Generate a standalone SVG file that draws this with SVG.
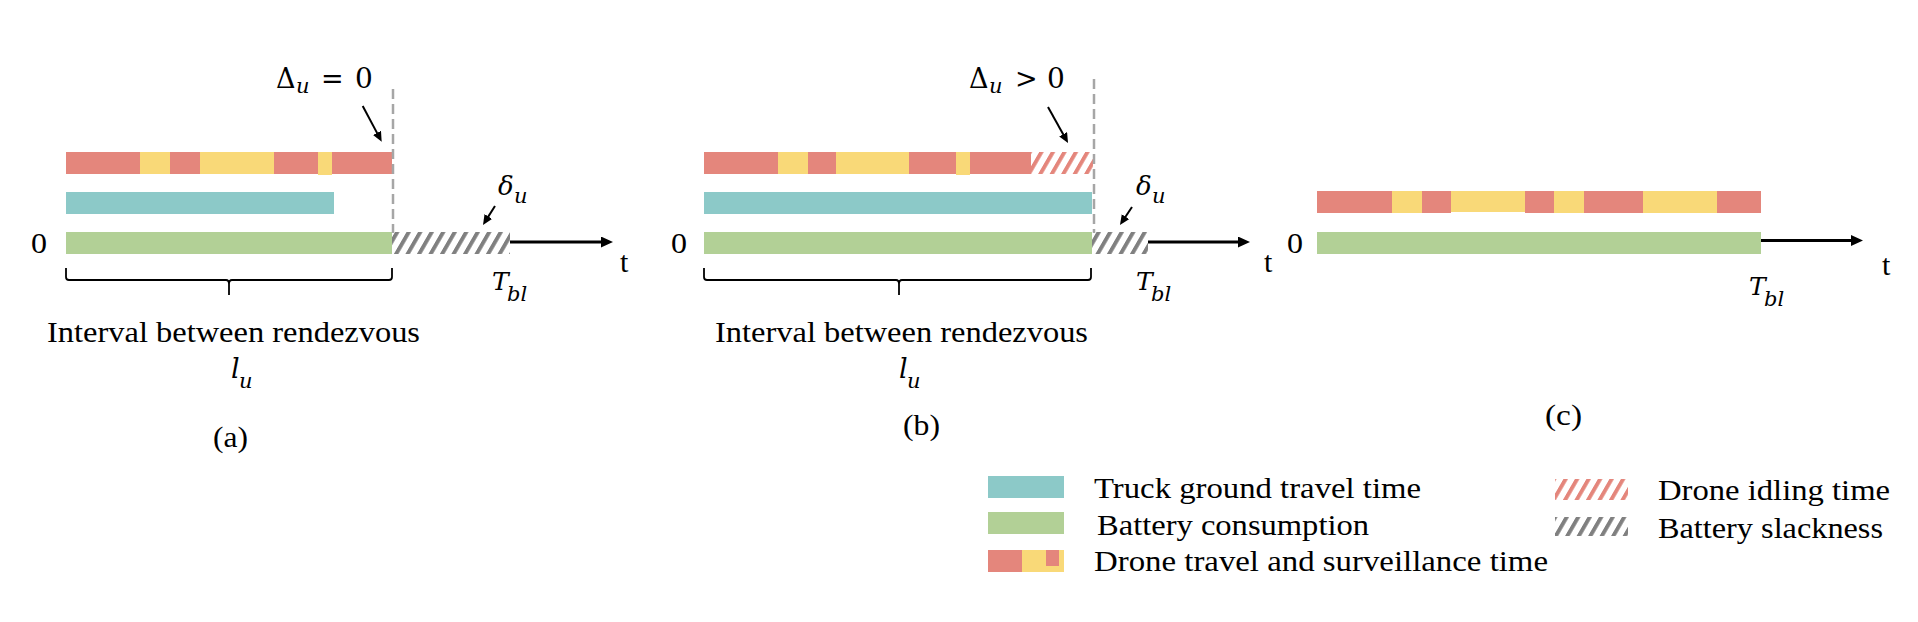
<svg xmlns="http://www.w3.org/2000/svg" width="1918" height="622" viewBox="0 0 1918 622">
<style>
.txt{font-family:"Liberation Serif",serif;font-size:30px;fill:#000}
.m{font-family:"DejaVu Serif",serif;fill:#000}
.mi{font-family:"DejaVu Serif",serif;font-style:italic;fill:#000}
.red{fill:#E4867C}
.yel{fill:#F9D978}
.teal{fill:#8CC9C8}
.green{fill:#B2D096}
.dash{stroke:#A6A6A6;stroke-width:2.5;stroke-dasharray:10 5;fill:none}
.brace{stroke:#000;stroke-width:1.8;fill:none}
.axis{stroke:#000;stroke-width:3;fill:none}
.ann{stroke:#000;stroke-width:2;fill:none}
</style>
<defs>
<pattern id="hatchGrey" patternUnits="userSpaceOnUse" width="11.5" height="40" patternTransform="skewX(-30)">
<rect x="0" y="0" width="4.5" height="40" fill="#808080"/>
</pattern>
<pattern id="hatchRed" patternUnits="userSpaceOnUse" width="11.5" height="40" patternTransform="skewX(-30)">
<rect x="0" y="0" width="4.5" height="40" fill="#E4867C"/>
</pattern>
<marker id="arrBig" markerUnits="userSpaceOnUse" markerWidth="13" markerHeight="12" refX="4" refY="5.5" orient="auto">
<path d="M0,0 L12,5.5 L0,11 Z" fill="#000"/>
</marker>
<marker id="arrSmall" markerUnits="userSpaceOnUse" markerWidth="11" markerHeight="10" refX="4" refY="4.5" orient="auto">
<path d="M0,0 L10,4.5 L0,9 Z" fill="#000"/>
</marker>
</defs>

<!-- Panel (a) -->
<g id="panel-a">
<g id="a-drone">
<rect class="red" x="66" y="152" width="74" height="22"/>
<rect class="yel" x="140" y="152" width="30" height="22"/>
<rect class="red" x="170" y="152" width="30" height="22"/>
<rect class="yel" x="200" y="152" width="74" height="22"/>
<rect class="red" x="274" y="152" width="44" height="22"/>
<rect class="yel" x="318" y="152" width="14" height="23"/>
<rect class="red" x="332" y="152" width="60" height="22"/>
</g>
<rect id="a-truck" class="teal" x="66" y="192" width="268" height="22"/>
<rect id="a-battery" class="green" x="66" y="232" width="326" height="22"/>
<rect id="a-slack" fill="url(#hatchGrey)" x="392" y="232" width="118" height="22"/>
<line class="dash" x1="393" y1="89" x2="393" y2="233"/>
<path class="brace" d="M66,268 V277 Q66,280 69,280 H226 Q229,280 229,284 V295 M229,284 Q229,280 232,280 H389 Q392,280 392,277 V268"/>
<text class="txt" x="31" y="253" textLength="16" lengthAdjust="spacingAndGlyphs">0</text>
<text class="txt" x="620" y="272">t</text>
<text class="m" x="276" y="88" font-size="27">Δ</text>
<text class="mi" x="296" y="93" font-size="21">u</text>
<text class="m" x="321" y="88" font-size="27">=</text>
<text class="m" x="355" y="88" font-size="28">0</text>
<text class="mi" x="498" y="195" font-size="26">δ</text>
<text class="mi" x="514" y="203" font-size="21">u</text>
<text class="mi" x="492" y="290" font-size="25">T</text>
<text class="mi" x="507" y="301" font-size="21">bl</text>
<text class="txt" x="47" y="341.7" textLength="373" lengthAdjust="spacingAndGlyphs">Interval between rendezvous</text>
<text class="mi" x="231" y="378" font-size="27">l</text>
<text class="mi" x="239" y="388" font-size="21">u</text>
<text class="txt" x="213" y="447" textLength="35" lengthAdjust="spacingAndGlyphs">(a)</text>
</g>

<!-- Panel (b) -->
<g id="panel-b">
<g id="b-drone">
<rect class="red" x="704" y="152" width="74" height="22"/>
<rect class="yel" x="778" y="152" width="30" height="22"/>
<rect class="red" x="808" y="152" width="28" height="22"/>
<rect class="yel" x="836" y="152" width="73" height="22"/>
<rect class="red" x="909" y="152" width="47" height="22"/>
<rect class="yel" x="956" y="152" width="14" height="23"/>
<rect class="red" x="970" y="152" width="61" height="22"/>
<rect fill="url(#hatchRed)" x="1031" y="152" width="62" height="22"/>
</g>
<rect id="b-truck" class="teal" x="704" y="192" width="388" height="22"/>
<rect id="b-battery" class="green" x="704" y="232" width="388" height="22"/>
<rect id="b-slack" fill="url(#hatchGrey)" x="1092" y="232" width="56" height="22"/>
<line class="dash" x1="1094" y1="79" x2="1094" y2="233"/>
<path class="brace" d="M704,268 V277 Q704,280 707,280 H896 Q899,280 899,284 V295 M899,284 Q899,280 902,280 H1088 Q1091,280 1091,277 V268"/>
<text class="txt" x="671" y="253" textLength="16" lengthAdjust="spacingAndGlyphs">0</text>
<text class="txt" x="1264" y="272">t</text>
<text class="m" x="969" y="88" font-size="27">Δ</text>
<text class="mi" x="989" y="93" font-size="21">u</text>
<text class="m" x="1015" y="88" font-size="27">&gt;</text>
<text class="m" x="1047" y="88" font-size="28">0</text>
<text class="mi" x="1136" y="195" font-size="26">δ</text>
<text class="mi" x="1152" y="203" font-size="21">u</text>
<text class="mi" x="1136" y="290" font-size="25">T</text>
<text class="mi" x="1151" y="301" font-size="21">bl</text>
<text class="txt" x="715" y="341.7" textLength="373" lengthAdjust="spacingAndGlyphs">Interval between rendezvous</text>
<text class="mi" x="899" y="378" font-size="27">l</text>
<text class="mi" x="907" y="388" font-size="21">u</text>
<text class="txt" x="903" y="435" textLength="37" lengthAdjust="spacingAndGlyphs">(b)</text>
</g>

<!-- Panel (c) -->
<g id="panel-c">
<g id="c-drone">
<rect class="red" x="1317" y="191" width="75" height="22"/>
<rect class="yel" x="1392" y="191" width="30" height="22"/>
<rect class="red" x="1422" y="191" width="29" height="22"/>
<rect class="yel" x="1451" y="191" width="74" height="21"/>
<rect class="red" x="1525" y="191" width="29" height="22"/>
<rect class="yel" x="1554" y="191" width="30" height="22"/>
<rect class="red" x="1584" y="191" width="59" height="22"/>
<rect class="yel" x="1643" y="191" width="74" height="22"/>
<rect class="red" x="1717" y="191" width="44" height="22"/>
</g>
<rect id="c-battery" class="green" x="1317" y="232" width="444" height="22"/>
<text class="txt" x="1287" y="253" textLength="16" lengthAdjust="spacingAndGlyphs">0</text>
<text class="txt" x="1882" y="275">t</text>
<text class="mi" x="1749" y="295" font-size="25">T</text>
<text class="mi" x="1764" y="306" font-size="21">bl</text>
<text class="txt" x="1545" y="425" textLength="37" lengthAdjust="spacingAndGlyphs">(c)</text>
</g>

<!-- Connectors -->
<g id="connectors">
<line class="axis" x1="510" y1="242" x2="605" y2="242" marker-end="url(#arrBig)"/>
<line class="axis" x1="1148" y1="242" x2="1242" y2="242" marker-end="url(#arrBig)"/>
<line class="axis" x1="1761" y1="240.5" x2="1855" y2="240.5" marker-end="url(#arrBig)"/>
<line class="ann" x1="362.7" y1="106" x2="378.9" y2="136.4" marker-end="url(#arrSmall)"/>
<line class="ann" x1="1048" y1="107" x2="1065.1" y2="137.8" marker-end="url(#arrSmall)"/>
<line class="ann" x1="495" y1="206" x2="486.2" y2="219.9" marker-end="url(#arrSmall)"/>
<line class="ann" x1="1132" y1="207" x2="1123.3" y2="220" marker-end="url(#arrSmall)"/>
</g>

<!-- Legend -->
<g id="legend">
<g id="legend-truck">
<rect class="teal" x="988" y="476" width="76" height="22"/>
<text class="txt" x="1094" y="498" textLength="327" lengthAdjust="spacingAndGlyphs">Truck ground travel time</text>
</g>
<g id="legend-battery">
<rect class="green" x="988" y="512" width="76" height="22"/>
<text class="txt" x="1097" y="535" textLength="272" lengthAdjust="spacingAndGlyphs">Battery consumption</text>
</g>
<g id="legend-drone">
<rect class="red" x="988" y="550" width="34" height="22"/>
<rect class="yel" x="1022" y="550" width="42" height="22"/>
<rect class="red" x="1046" y="550" width="13" height="16"/>
<text class="txt" x="1094" y="571" textLength="454" lengthAdjust="spacingAndGlyphs">Drone travel and surveillance time</text>
</g>
<g id="legend-idle">
<rect fill="url(#hatchRed)" x="1555" y="479" width="73" height="21"/>
<text class="txt" x="1658" y="500" textLength="232" lengthAdjust="spacingAndGlyphs">Drone idling time</text>
</g>
<g id="legend-slack">
<rect fill="url(#hatchGrey)" x="1555" y="517" width="73" height="19"/>
<text class="txt" x="1658" y="538" textLength="225" lengthAdjust="spacingAndGlyphs">Battery slackness</text>
</g>
</g>
</svg>
